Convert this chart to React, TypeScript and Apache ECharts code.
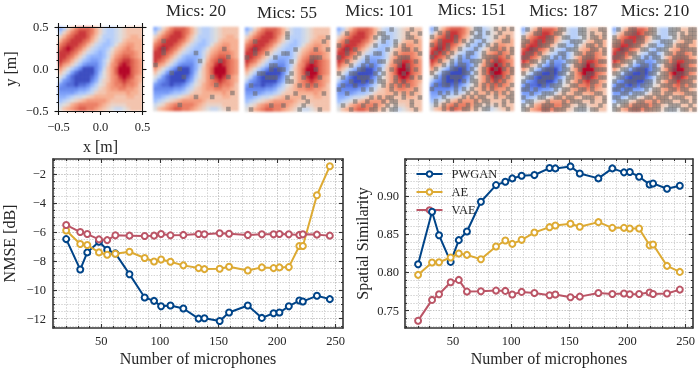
import React, { useEffect, useRef } from "react";
import * as echarts from "echarts";

const WIDTH = 698;
const HEIGHT = 369;
const SERIF = "'Liberation Serif', serif";
const INK = "#262626";

// ---------- line chart data ----------
const micCounts = [20, 32, 38, 48, 55, 62, 74, 87, 95, 101, 109, 120, 133, 138, 151, 159, 175, 187, 197, 202, 210, 219, 222, 234, 245];
const nmsePwgan = [-6.49, -8.6, -7.41, -6.67, -7.23, -7.48, -8.92, -10.54, -10.77, -11.14, -11.09, -11.3, -12.0, -11.97, -12.16, -11.58, -11.09, -11.95, -11.63, -11.58, -11.14, -10.75, -10.81, -10.42, -10.65];
const nmseAe = [-5.9, -6.83, -6.9, -7.41, -7.57, -7.5, -7.37, -7.8, -8.04, -7.9, -8.06, -8.31, -8.5, -8.57, -8.55, -8.41, -8.66, -8.45, -8.5, -8.45, -8.43, -6.97, -6.97, -3.45, -1.44];
const nmseVae = [-5.51, -6.0, -6.14, -6.51, -6.56, -6.23, -6.25, -6.28, -6.25, -6.14, -6.23, -6.2, -6.14, -6.16, -6.09, -6.12, -6.2, -6.16, -6.16, -6.14, -6.16, -6.2, -6.16, -6.18, -6.25];
const simPwgan = [0.8108, 0.8794, 0.8488, 0.8138, 0.8423, 0.8536, 0.8926, 0.9144, 0.9188, 0.9232, 0.9267, 0.9276, 0.9367, 0.9363, 0.9389, 0.9297, 0.9232, 0.9363, 0.9311, 0.9315, 0.9254, 0.9153, 0.9166, 0.9096, 0.9136];
const simAe = [0.7968, 0.813, 0.8134, 0.8195, 0.8248, 0.823, 0.8173, 0.834, 0.8418, 0.8374, 0.8427, 0.8523, 0.8593, 0.8615, 0.8637, 0.8598, 0.8659, 0.8584, 0.8584, 0.8576, 0.8576, 0.8357, 0.8366, 0.8086, 0.8007];
const simVae = [0.7368, 0.764, 0.7714, 0.7871, 0.7902, 0.7749, 0.7753, 0.7762, 0.7758, 0.771, 0.7745, 0.7731, 0.7701, 0.771, 0.7675, 0.7683, 0.7731, 0.7718, 0.7723, 0.7714, 0.7718, 0.7736, 0.7718, 0.7723, 0.7775];

const xMajor = [50, 100, 150, 200, 250];
const xMinor = [10, 20, 30, 40, 60, 70, 80, 90, 110, 120, 130, 140, 160, 170, 180, 190, 210, 220, 230, 240];
const nmseMajor = [-12, -10, -8, -6, -4, -2];
const nmseMinor = [-12.5, -11.5, -11, -10.5, -9.5, -9, -8.5, -7.5, -7, -6.5, -5.5, -5, -4.5, -3.5, -3, -2.5, -1.5, -1];
const simMajor = [0.75, 0.8, 0.85, 0.9];
const simMinor = [0.73, 0.74, 0.76, 0.77, 0.78, 0.79, 0.81, 0.82, 0.83, 0.84, 0.86, 0.87, 0.88, 0.89, 0.91, 0.92, 0.93, 0.94];
const fieldMajor = [-0.5, 0, 0.5];
const fieldMinor = [-0.4, -0.3, -0.2, -0.1, 0.1, 0.2, 0.3, 0.4];

const methodNames = ["PWGAN", "AE", "VAE"];
const methodColors = ["#004488", "#DDAA33", "#BB5566"];

// ---------- sound field ----------
const fieldRows = [
  [-4, -2, 1, 3, 5, 6, 6, 6, 5, 3, 1, -1, -2, -2, -1, 0, 1, 2, 2, 2, 2],
  [-2, 1, 3, 5, 6, 7, 7, 6, 5, 3, 1, -1, -2, -2, -1, 0, 1, 2, 2, 2, 2],
  [1, 3, 5, 6, 7, 7, 7, 6, 4, 2, 0, -2, -2, -2, -1, 0, 1, 2, 3, 3, 2],
  [3, 5, 6, 7, 7, 7, 6, 5, 3, 1, -1, -2, -3, -2, -1, 0, 2, 3, 3, 3, 3],
  [5, 6, 7, 7, 7, 6, 5, 3, 1, -1, -2, -3, -3, -2, 0, 2, 3, 4, 4, 3, 3],
  [6, 7, 8, 7, 6, 5, 3, 1, -1, -2, -3, -3, -2, 0, 2, 3, 4, 5, 4, 3, 3],
  [7, 7, 7, 6, 5, 3, 1, -1, -2, -3, -4, -3, -1, 1, 3, 4, 5, 5, 5, 4, 3],
  [7, 7, 6, 5, 3, 1, -1, -3, -4, -4, -4, -3, -1, 2, 4, 5, 6, 6, 5, 4, 3],
  [7, 6, 5, 3, 1, -1, -3, -4, -5, -5, -4, -2, 0, 3, 5, 6, 7, 7, 6, 5, 4],
  [6, 4, 3, 1, -1, -3, -5, -6, -6, -6, -4, -2, 1, 4, 5, 7, 8, 7, 6, 5, 4],
  [4, 2, 0, -2, -4, -6, -8, -8, -8, -6, -4, -1, 2, 4, 6, 8, 10, 8, 6, 5, 4],
  [2, 0, -2, -5, -7, -8, -9, -9, -8, -6, -3, 0, 2, 4, 6, 8, 10, 8, 6, 5, 4],
  [0, -2, -5, -7, -8, -9, -9, -9, -7, -5, -2, 0, 2, 4, 5, 7, 8, 7, 6, 4, 3],
  [-2, -5, -6, -7, -8, -9, -8, -8, -6, -4, -1, 1, 2, 4, 5, 6, 7, 6, 5, 4, 3],
  [-5, -6, -7, -7, -8, -7, -7, -6, -4, -2, 0, 1, 3, 4, 5, 5, 6, 5, 5, 4, 2],
  [-6, -6, -6, -6, -6, -5, -5, -4, -2, -1, 1, 2, 3, 4, 4, 5, 5, 4, 4, 3, 2],
  [-5, -5, -5, -5, -4, -3, -3, -2, -1, 1, 2, 2, 3, 3, 3, 3, 3, 4, 3, 3, 2],
  [-4, -4, -3, -2, -1, -1, 0, 1, 2, 3, 3, 3, 3, 3, 2, 2, 2, 3, 3, 2, 2],
  [-3, -2, -1, 0, 1, 2, 3, 4, 4, 4, 4, 4, 3, 2, 2, 2, 2, 2, 2, 2, 2],
  [-1, 0, 1, 3, 4, 5, 5, 5, 5, 5, 4, 3, 2, 1, 1, 1, 1, 2, 2, 2, 2],
  [0, 2, 3, 4, 5, 6, 6, 5, 5, 4, 3, 2, 1, 0, -1, -1, 0, 1, 2, 2, 2],
];
const coolwarm = ["#3b4cc0", "#5f7fe8", "#7b9ff9", "#9ebeff", "#c0d4f5", "#dddcdc", "#f2cbb7", "#f7ac8e", "#ee8468", "#d65244", "#b40426"];

// ---------- microphone masks: "#" marks a cell with a microphone ----------
const mask20 = [
  ".....................", ".....................", ".....................", "..#..................",
  ".....................", "..#..............#...", "..#.......#..........", "..................#..",
  "...........#....#....", "#....................", "......#..............", "....#................",
  ".......#......#...#..", ".....................", "...............#.....", ".....................",
  "...................#.", "..........#...#......", ".....................", "......#..............",
  "..................#..",
];
const mask55 = [
  ".....................", "..........#..........", "..........#.........#", "..#................#.",
  ".....................", "..#.........#....#..#", "..#..#...##..........", "#......#........###..",
  "...........#....#....", "......##.............", "......#.##.......#...", "...##......#...#.....",
  ".....###..#...#...#..", "..........##.........", ".#...........#.#.#...", ".....................",
  "..#.........#......#.", "..........#...#......", "...............#.....", "......#..#....#......",
  ".#...........#....#..",
];
const mask101 = [
  ".............#....#..", "..#.......##.....#..#", ".........#.##....##..", "..#........#..#....#.",
  "#........#....#.#....", "..#.#.......#...##.#.", "..#..#...##...#.....#", "#...#..#.......###...",
  "..#....#..##..##...#.", "...#..#.#......#.#...", ".....##...#..#...#.#.", "#..##....#.#....#....",
  ".#...###..#...#...#.#", "...#..#.#.##..#.#....", ".#..#......#.#.#.#...", "#.....#.#....#.....#.",
  "..#...........#.#.#..", "........#.#.##..#...#", "....#..#...#.##...#..", ".#....#..#..#.#...#..",
  "...#....##.#.##....#.",
];
const mask151 = [
  ".#.........##...#.#.#", "..#.#.....#.#.#..#...", "#...#.#....##...#..#.", "..#...#.#.#..#....##.",
  "#.#.#....#..#.#.#....", "..#.#..#...#...##.#.#", ".#.#.#...##..#...#..#", "#...#..#.#...####..#.",
  "..#..#.#..###.#.#....", "...#.#.##..#..##.#.#.", ".#...##.#.#..#..#.#.#", "#..##...##.#.#.#....#",
  ".#.#.###..#...#.##.#.", "...#..#.#.##..#.#.#..", ".#.##.#....#.#.#.#..#", "#.....#.#.#..#.#...#.",
  "..#.#.#..#.#..#.#.#.#", "...#....#.#.##..#..##", ".#..#..#...#.##...#.#", ".#.#..#..#.##.#.#.#..",
  "...#.#..##.#.##....#.",
];
const mask187 = [
  ".#..#....##...##...##", "...##...##....##.#..#", "#.....##..##...#.##.#", "##..#.##....###...##.",
  "#...###..##..#..##.#.", "..##...#...###...##.#", ".##.#....##..##.##..#", "##...##.#.#....###...",
  "..##.#.#...###.#...##", "##..#..#..#..###.#...", "..#..###..##..#...###", "#..##..#.##.#...##...",
  ".##..###...##..##..##", "#...##...#.#..#..##..", ".#...#.###..##...#..#", "##.#....#.##..##.#...",
  "..#..###..#..##...##.", "#...##..##.##..###..#", ".##...#...#.###..#..#", "#.#..###..##..##...#.",
  "##...##.###..###.##..",
];
const mask210 = [
  ".#..##...##...###..##", "...###..###...##.#.##", "#.....##..##...#.####", "##.##.##....###...##.",
  "##..###..##..##.###..", "..##...##..###...####", ".##.##...##..##.##..#", "###..##.#.##...####..",
  "..###.##...###.#..###", "##..#..##.#..###.##..", "..##.###..##..##..###", "##.##..#.##.##..###..",
  ".##..###...###.##..##", "#..###..##.#..##.###.", ".##..#.###..###..#.##", "##.##...#.##..##.##..",
  "..##.###..##.##...###", "##..##..##.###.###..#", ".###..##..#.###..##.#", "#.##.####.##..###..#.",
  "##..###.####.###.##.#",
];
const maskPanels = [
  { title: "Mics: 20", cells: mask20 },
  { title: "Mics: 55", cells: mask55 },
  { title: "Mics: 101", cells: mask101 },
  { title: "Mics: 151", cells: mask151 },
  { title: "Mics: 187", cells: mask187 },
  { title: "Mics: 210", cells: mask210 },
];

// ---------- layout ----------
const refBox = { left: 58.5, top: 27, width: 84, height: 84 };
const panelBoxes = [
  { left: 153.5, top: 27, width: 85, height: 84, titleX: 196, titleY: 10 },
  { left: 245, top: 27.5, width: 85, height: 84, titleX: 287, titleY: 12 },
  { left: 337, top: 27.5, width: 85, height: 84, titleX: 379.5, titleY: 10 },
  { left: 430, top: 27, width: 84, height: 84, titleX: 472, titleY: 9.5 },
  { left: 521.5, top: 27.5, width: 85, height: 84, titleX: 563.5, titleY: 10.5 },
  { left: 612.5, top: 27.5, width: 84, height: 84, titleX: 655, titleY: 10 },
];
const leftBox = { left: 52, top: 159, width: 291, height: 169 };
const rightBox = { left: 405, top: 159, width: 288, height: 169 };

const indices = Array.from({ length: 21 }, (_, i) => String(i));
const minus = (s: string) => s.replace("-", "\u2212");

function makeAxes(store: any[], dim: "x" | "y", gridIndex: number, cfg: any) {
  const first = store.length;
  const sides = dim === "x" ? ["bottom", "top"] : ["left", "right"];
  const base = {
    type: "value",
    gridIndex,
    min: cfg.min,
    max: cfg.max,
  };
  sides.forEach((side, s) => {
    // major axis
    store.push({
      ...base,
      position: side,
      name: s === 0 ? cfg.name : undefined,
      nameLocation: "middle",
      nameGap: cfg.nameGap,
      nameRotate: dim === "y" ? 90 : 0,
      nameTextStyle: { fontFamily: SERIF, fontSize: 16, color: INK },
      axisLine: { show: true, onZero: false, lineStyle: { color: cfg.frame ?? "#333", width: cfg.frameWidth ?? 1.6 } },
      axisTick: {
        show: true,
        inside: cfg.inside,
        length: cfg.majorLen,
        customValues: cfg.major,
        lineStyle: { color: cfg.frame ?? "#333", width: 1.1 },
      },
      axisLabel: {
        show: s === 0,
        customValues: cfg.major,
        margin: cfg.margin,
        fontFamily: SERIF,
        fontSize: 12.5,
        color: INK,
        formatter: cfg.format,
      },
      splitLine: cfg.grid
        ? { show: true, lineStyle: { type: [1.2, 1.6], color: "#c2c2c2", width: 0.9 } }
        : { show: false },
    });
    // minor axis
    store.push({
      ...base,
      position: side,
      axisLine: { show: false, onZero: false },
      axisLabel: { show: false },
      axisTick: {
        show: true,
        inside: cfg.inside,
        length: cfg.minorLen,
        customValues: cfg.minor,
        lineStyle: { color: cfg.frame ?? "#333", width: 1 },
      },
      splitLine: cfg.grid
        ? { show: true, lineStyle: { type: [1.2, 1.6], color: "#d0d0d0", width: 0.8 } }
        : { show: false },
    });
  });
  return first;
}

function zip(xs: number[], ys: number[]) {
  return xs.map((x, i) => [x, ys[i]]);
}

function lineSeries(name: string, color: string, xAxisIndex: number, yAxisIndex: number, ys: number[]) {
  return {
    type: "line",
    name,
    xAxisIndex,
    yAxisIndex,
    data: zip(micCounts, ys),
    symbol: "emptyCircle",
    symbolSize: 6,
    showSymbol: true,
    showAllSymbol: true,
    color,
    lineStyle: { color, width: 2 },
    itemStyle: { color, borderColor: color, borderWidth: 1.6 },
    z: 5,
    silent: true,
  };
}

function buildFieldOption() {
  const data: number[][] = [];
  fieldRows.forEach((row, r) => row.forEach((v, c) => data.push([c, r, v])));
  const boxes = [refBox, ...panelBoxes];
  return {
    animation: false,
    grid: boxes.map((b) => ({ left: b.left, top: b.top, width: b.width, height: b.height })),
    xAxis: boxes.map((_, i) => ({ type: "category", gridIndex: i, data: indices, show: false })),
    yAxis: boxes.map((_, i) => ({ type: "category", gridIndex: i, data: indices, show: false, inverse: true })),
    visualMap: { show: false, min: -8, max: 8, dimension: 2, inRange: { color: coolwarm } },
    series: boxes.map((_, i) => ({
      type: "heatmap",
      xAxisIndex: i,
      yAxisIndex: i,
      data,
      silent: true,
    })),
  };
}

function buildMainOption() {
  const xAxes: any[] = [];
  const yAxes: any[] = [];
  const grids: any[] = [leftBox, rightBox, refBox];

  const fmtX = (v: number) => String(v);
  const commonX = {
    min: 8.75,
    max: 256.25,
    major: xMajor,
    minor: xMinor,
    inside: true,
    majorLen: 4,
    minorLen: 2,
    margin: 6,
    grid: true,
    format: fmtX,
    name: "Number of microphones",
    nameGap: 22,
  };
  const lx = makeAxes(xAxes, "x", 0, commonX);
  const ly = makeAxes(yAxes, "y", 0, {
    min: -12.65,
    max: -0.94,
    major: nmseMajor,
    minor: nmseMinor,
    inside: true,
    majorLen: 4,
    minorLen: 2,
    margin: 7,
    grid: true,
    format: (v: number) => minus(String(v)),
    name: "NMSE [dB]",
    nameGap: 36,
  });
  const rx = makeAxes(xAxes, "x", 1, commonX);
  const ry = makeAxes(yAxes, "y", 1, {
    min: 0.7272,
    max: 0.9486,
    major: simMajor,
    minor: simMinor,
    inside: true,
    majorLen: 4,
    minorLen: 2,
    margin: 6,
    grid: true,
    format: (v: number) => v.toFixed(2),
    name: "Spatial Similarity",
    nameGap: 35,
  });
  const refCfg = {
    min: -0.5,
    max: 0.5,
    major: fieldMajor,
    minor: fieldMinor,
    inside: false,
    majorLen: 4,
    minorLen: 2,
    frame: "#111",
    frameWidth: 1,
    grid: false,
    format: (v: number) => minus(v.toFixed(1)),
  };
  makeAxes(xAxes, "x", 2, { ...refCfg, margin: 9, name: "x [m]", nameGap: 27 });
  makeAxes(yAxes, "y", 2, { ...refCfg, margin: 10, name: "y [m]", nameGap: 40 });

  const series: any[] = [
    lineSeries(methodNames[0], methodColors[0], lx, ly, nmsePwgan),
    lineSeries(methodNames[1], methodColors[1], lx, ly, nmseAe),
    lineSeries(methodNames[2], methodColors[2], lx, ly, nmseVae),
    lineSeries(methodNames[0], methodColors[0], rx, ry, simPwgan),
    lineSeries(methodNames[1], methodColors[1], rx, ry, simAe),
    lineSeries(methodNames[2], methodColors[2], rx, ry, simVae),
  ];
  const maskSeriesIndices: number[] = [];

  maskPanels.forEach((panel, i) => {
    const gridIndex = grids.length;
    const box = panelBoxes[i];
    grids.push(box);
    const xi = xAxes.length;
    const yi = yAxes.length;
    xAxes.push({ type: "category", gridIndex, data: indices, show: false });
    yAxes.push({ type: "category", gridIndex, data: indices, show: false, inverse: true });
    const data: number[][] = [];
    panel.cells.forEach((row, r) =>
      row.split("").forEach((ch, c) => {
        if (ch === "#") data.push([c, r, 1]);
      })
    );
    maskSeriesIndices.push(series.length);
    series.push({
      type: "heatmap",
      xAxisIndex: xi,
      yAxisIndex: yi,
      data,
      silent: true,
    });
  });

  return {
    animation: false,
    grid: grids.map((b) => ({ left: b.left, top: b.top, width: b.width, height: b.height })),
    xAxis: xAxes,
    yAxis: yAxes,
    series,
    visualMap: {
      show: false,
      seriesIndex: maskSeriesIndices,
      min: 0,
      max: 1,
      dimension: 2,
      inRange: { color: ["rgba(105,105,105,0.55)", "rgba(105,105,105,0.55)"] },
    },
    legend: {
      data: methodNames,
      orient: "vertical",
      left: 415.5,
      top: 167.5,
      padding: 0,
      itemWidth: 26,
      itemHeight: 7,
      itemGap: 5,
      selectedMode: false,
      textStyle: { fontFamily: SERIF, fontSize: 12.5, color: INK, padding: [0, 0, 0, 4] },
    },
    graphic: maskPanels.map((panel, i) => ({
      type: "text",
      x: panelBoxes[i].titleX,
      y: panelBoxes[i].titleY,
      style: {
        text: panel.title,
        fill: INK,
        font: `17px ${SERIF}`,
        textAlign: "center",
        textVerticalAlign: "middle",
      },
    })),
  };
}

export default function App() {
  const backRef = useRef<HTMLDivElement>(null);
  const frontRef = useRef<HTMLDivElement>(null);

  useEffect(() => {
    document.body.style.margin = "0";
    const back = echarts.init(backRef.current!, undefined, { renderer: "svg" });
    const front = echarts.init(frontRef.current!, undefined, { renderer: "svg" });
    back.setOption(buildFieldOption());
    front.setOption(buildMainOption());
    return () => {
      back.dispose();
      front.dispose();
    };
  }, []);

  const layer: React.CSSProperties = { position: "absolute", left: 0, top: 0, width: WIDTH, height: HEIGHT };
  return (
    <div style={{ position: "relative", width: WIDTH, height: HEIGHT, background: "#fff", overflow: "hidden" }}>
      <div ref={backRef} style={{ ...layer, filter: "blur(1.1px)" }} />
      <div ref={frontRef} style={{ ...layer, filter: "blur(0.35px)" }} />
    </div>
  );
}
